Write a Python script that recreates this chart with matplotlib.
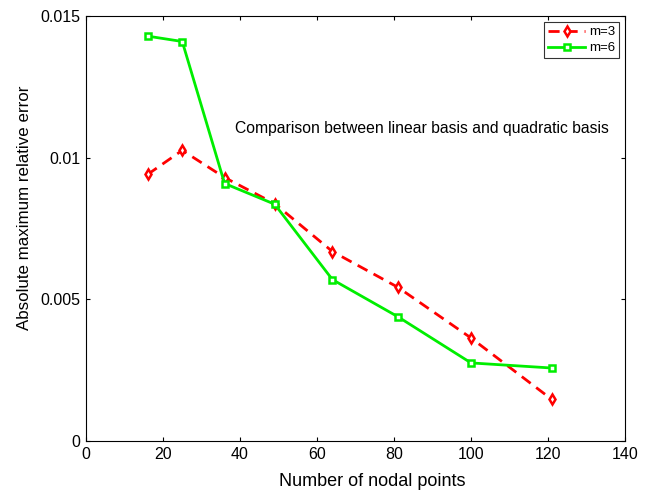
import matplotlib.pyplot as plt

plt.rcParams['font.family'] = ['Liberation Sans', 'DejaVu Sans']

# numero de pontos nodais e erro relativo maximo
nodes = [16, 25, 36, 49, 64, 81, 100, 121]
err_m3 = [0.00941, 0.01026, 0.00930, 0.00838, 0.00669, 0.00543, 0.00364, 0.00147]
err_m6 = [0.01429, 0.01410, 0.00909, 0.00836, 0.00570, 0.00439, 0.00276, 0.00258]

xticks = [0, 20, 40, 60, 80, 100, 120, 140]
yticks = [0, 0.005, 0.01, 0.015]
ytick_labels = ['0', '0.005', '0.01', '0.015']

fig = plt.figure(figsize=(6.54, 4.94), dpi=100)
ax = fig.add_axes([0.1315, 0.107, 0.8242, 0.8606])

ax.plot(nodes, err_m3, 'r--d', linewidth=2, markersize=5.5, markerfacecolor='white',
        markeredgewidth=1.8, dashes=(4, 2.5), label='m=3')
ax.plot(nodes, err_m6, '-s', color='#00ee00', linewidth=2, markersize=5,
        markerfacecolor='white', markeredgewidth=1.8, label='m=6')

ax.text(38.7, 0.01104, 'Comparison between linear basis and quadratic basis',
        fontsize=11.3, va='center', ha='left')

ax.set_xlim(0, 140)
ax.set_ylim(0, 0.015)
ax.set_xticks(xticks)
ax.set_yticks(yticks)
ax.set_yticklabels(ytick_labels)
ax.tick_params(direction='in', top=True, right=True, labelsize=11.5, length=3, pad=4)
ax.set_xlabel('Number of nodal points', fontsize=13, labelpad=8)
ax.set_ylabel('Absolute maximum relative error', fontsize=12.2, labelpad=6)
# rotulos levemente deslocados do centro do eixo
ax.xaxis.label.set_x(0.531)
ax.yaxis.label.set_y(0.55)

leg = ax.legend(loc='upper right', fontsize=9.5, fancybox=False, edgecolor='black',
                borderaxespad=0.45, handlelength=2.8, handletextpad=0.3,
                borderpad=0.3, labelspacing=0.3)
leg.get_frame().set_linewidth(0.8)

fig.savefig('out.png', dpi=100)
